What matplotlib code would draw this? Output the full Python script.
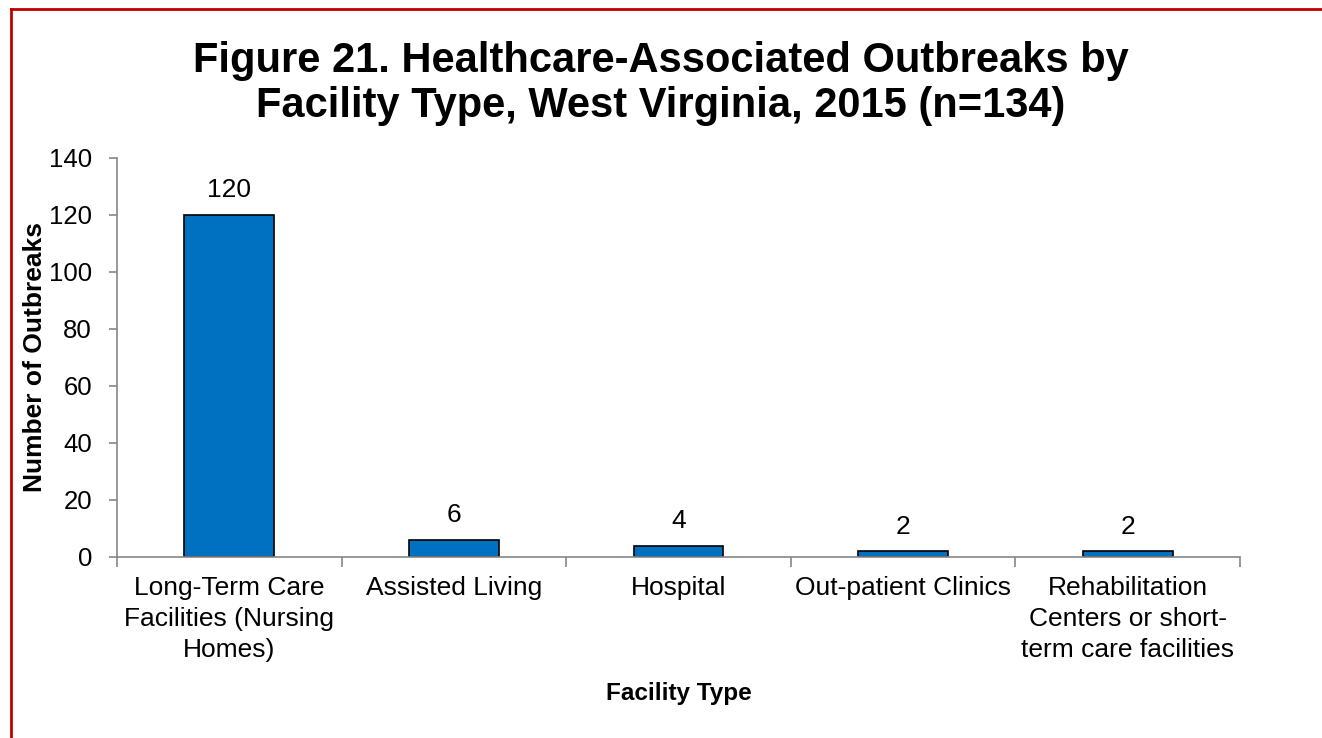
import matplotlib

matplotlib.use("Agg")
import matplotlib.pyplot as plt
from matplotlib.lines import Line2D

plt.rcParams["font.family"] = ["Liberation Sans", "DejaVu Sans"]

categories = [
    "Long-Term Care\nFacilities (Nursing\nHomes)",
    "Assisted Living",
    "Hospital",
    "Out-patient Clinics",
    "Rehabilitation\nCenters or short-\nterm care facilities",
]
outbreaks = [120, 6, 4, 2, 2]
y_ticks = [0, 20, 40, 60, 80, 100, 120, 140]

axis_gray = "#868686"
bar_blue = "#0070C0"
border_red = "#C00000"

fig = plt.figure(figsize=(13.22, 7.38), dpi=100)
ax = fig.add_axes([0.0885, 0.2453, 0.8495, 0.5407])

x = list(range(len(categories)))
bars = ax.bar(x, outbreaks, width=0.4, color=bar_blue, edgecolor="black", linewidth=1.2)
for bar, v in zip(bars, outbreaks):
    ax.annotate(
        str(v),
        (bar.get_x() + bar.get_width() / 2, bar.get_height()),
        xytext=(0, 9),
        textcoords="offset points",
        ha="center",
        va="bottom",
        fontsize=19,
    )

ax.set_xlim(-0.5, len(categories) - 0.5)
ax.set_ylim(0, 140)
ax.set_yticks(y_ticks)
ax.tick_params(axis="y", labelsize=18.5, length=6, color=axis_gray, width=1.2, pad=12)

# category labels at centres, tick marks at boundaries
ax.set_xticks(x)
ax.set_xticklabels(categories, fontsize=19, linespacing=1.37)
ax.tick_params(axis="x", which="major", length=0, pad=14)
ax.set_xticks([i - 0.5 for i in range(len(categories) + 1)], minor=True)
ax.tick_params(axis="x", which="minor", length=7, color=axis_gray, width=1.2)

for side in ["top", "right"]:
    ax.spines[side].set_visible(False)
for side in ["left", "bottom"]:
    ax.spines[side].set_color(axis_gray)
    ax.spines[side].set_linewidth(1.2)

ax.set_ylabel("Number of Outbreaks", fontsize=19, fontweight="bold", labelpad=1)
ax.set_xlabel("Facility Type", fontsize=17.5, fontweight="bold", labelpad=14)

fig.text(
    0.5,
    0.887,
    "Figure 21. Healthcare-Associated Outbreaks by\nFacility Type, West Virginia, 2015 (n=134)",
    ha="center",
    va="center",
    fontsize=30,
    fontweight="bold",
    linespacing=1.16,
)

# red page border
fig.add_artist(Line2D([0.0083, 0.0083], [0.0, 0.988], color=border_red, linewidth=2, transform=fig.transFigure))
fig.add_artist(Line2D([0.0083, 1.0], [0.988, 0.988], color=border_red, linewidth=2, transform=fig.transFigure))

fig.savefig("out.png", dpi=100)
